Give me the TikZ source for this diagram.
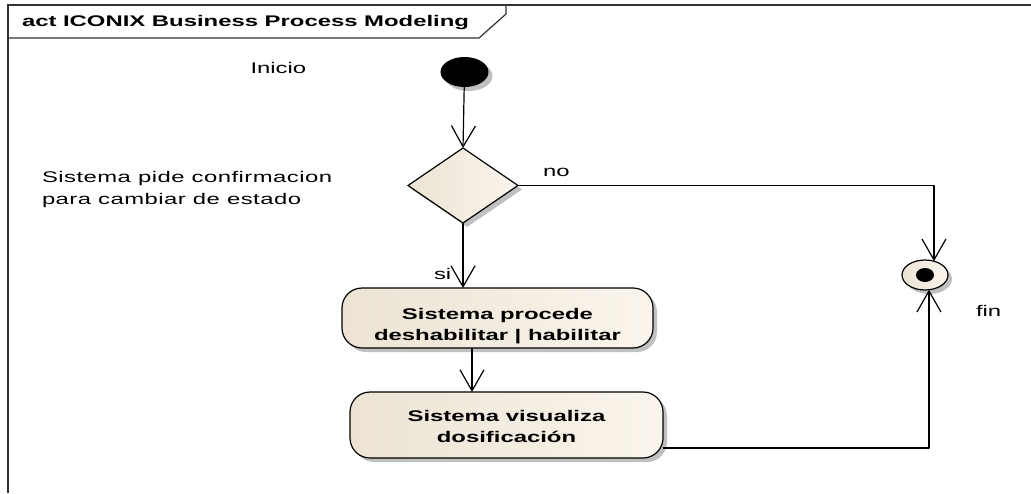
\documentclass[tikz,border=0pt]{standalone}
\usepackage{fontspec}
\setmainfont{Liberation Sans}[FakeStretch=1.55]
\usetikzlibrary{arrows.meta,shapes.geometric,shadows}
\definecolor{frameC}{RGB}{50,50,50}
\definecolor{beigeL}{RGB}{236,227,212}
\definecolor{beigeR}{RGB}{250,245,236}
\definecolor{shadowC}{RGB}{192,192,192}
\begin{document}
\begin{tikzpicture}[x=1pt,y=-1pt,
  every node/.style={font=\fontsize{15.4}{21}\selectfont, inner sep=0pt, outer sep=0pt},
  shad/.style={drop shadow={shadow xshift=4pt,shadow yshift=-4pt,fill=shadowC,opacity=1}},
  conn/.style={line width=1.2pt, line join=round, -{Straight Barb[length=21pt,width=24pt]}},
  lbl/.style={anchor=base west},
  actbox/.style={draw, line width=1.2pt, rounded corners=20pt, left color=beigeL, right color=beigeR,
    shad, align=center, font=\bfseries\fontsize{15.4}{21}\selectfont},
  decision/.style={diamond, draw, line width=1.2pt, left color=beigeL, right color=beigeR, shad,
    minimum width=110pt, minimum height=75pt},
  initial/.style={ellipse, fill=black, shad, minimum width=48pt, minimum height=30pt},
  final/.style={ellipse, draw, line width=1.2pt, left color=beigeL, right color=beigeR, shad,
    minimum width=46pt, minimum height=30pt,
    path picture={\fill[black] (path picture bounding box.center) ellipse (9pt and 7pt);}}
]
\useasboundingbox (0,0) rectangle (1031,493);
% frame
\draw[frameC, line width=1.2pt] (8,493) -- (8,5) -- (1031,5);
\draw[frameC, line width=1.2pt] (8,38) -- (479,38) -- (506,14) -- (506,5);
\node[lbl, font=\bfseries\fontsize{15.4}{21}\selectfont] (title) at (22,26.5) {act ICONIX Business Process Modeling};

% nodes
\node[initial] (init) at (464.5,72) {};
\node[decision] (dia) at (463,185.5) {};
\node[actbox, minimum width=311pt, minimum height=60pt, text height=48pt, text depth=4pt] (a1) at (497.5,318)
  {Sistema procede\\deshabilitar | habilitar};
\node[actbox, minimum width=313pt, minimum height=66pt, text height=39.4pt, text depth=4pt] (a2) at (506.5,425)
  {Sistema visualiza\\dosificación};
\node[final] (fin) at (925,275) {};

% labels
\node[lbl] (inicio) at (250.5,73.3) {Inicio};
\node[lbl, align=left, font=\fontsize{15.4}{21.5}\selectfont\addfontfeatures{LetterSpace=3}] (pide) at (42,204.2) {Sistema pide confirmacion\\para cambiar de estado};
\node[lbl] (no) at (543,176) {no};
\node[lbl] (si) at (434,279.5) {si};
\node[lbl] (finl) at (976,316.5) {fin};

% connectors
\draw[conn] (init) -- (dia.north);
\draw[conn] (dia.south) -- (dia.south |- a1.north);
\draw[conn] (dia.east) -| (fin.57);
\draw[conn] ([xshift=-25.5pt]a1.south) -- ([xshift=-25.5pt]a1.south |- a2.north);
\draw[conn] ([yshift=-23pt]a2.east) -| (fin.-75);
\end{tikzpicture}
\end{document}
